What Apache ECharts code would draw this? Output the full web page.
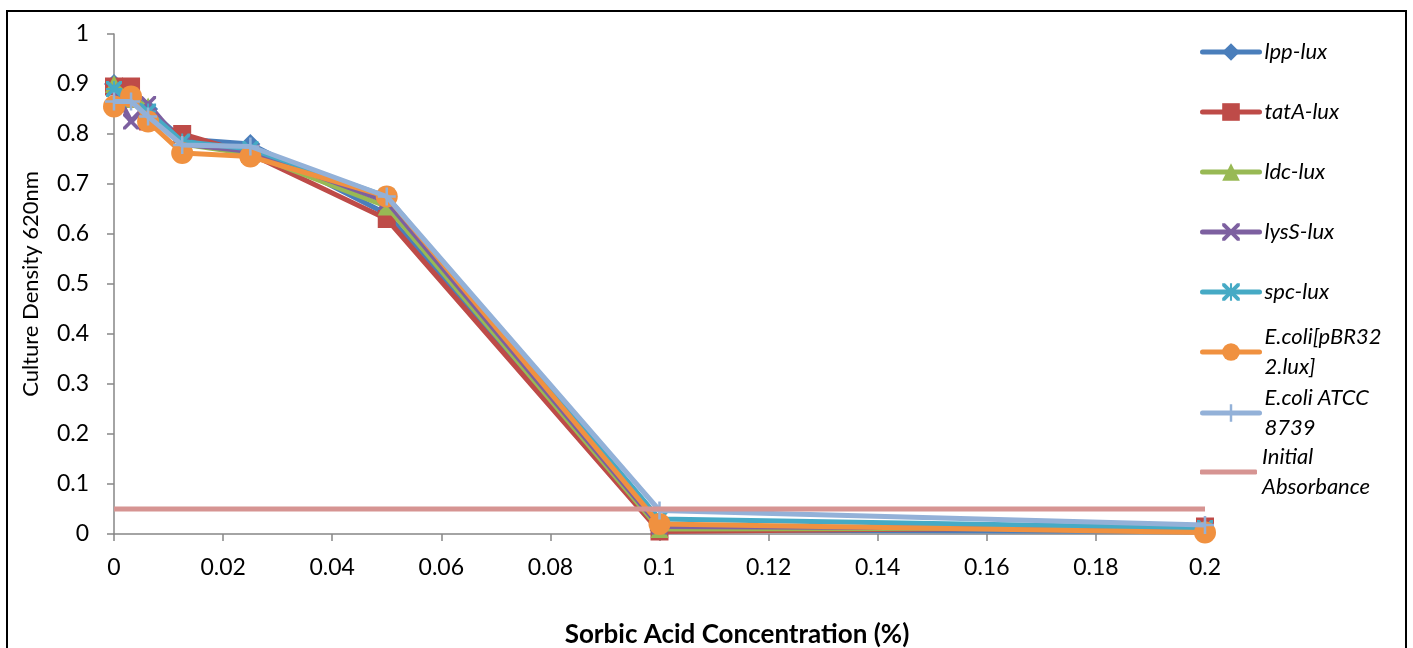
<!DOCTYPE html>
<html>
<head>
<meta charset="utf-8">
<script src="https://cdn.jsdelivr.net/npm/echarts@6/dist/echarts.min.js"></script>
<style>
html,body{margin:0;padding:0;background:#fff;}
#c{width:1413px;height:648px;}
</style>
</head>
<body>
<div id="c"></div>
<script>
// ---- data ----
var concentrations = [0, 0.003125, 0.00625, 0.0125, 0.025, 0.05, 0.1, 0.2];
var seriesNames = ['lpp-lux', 'tatA-lux', 'ldc-lux', 'lysS-lux', 'spc-lux', 'E.coli[pBR322.lux]', 'E.coli ATCC 8739', 'Initial Absorbance'];
var lppLux   = [0.900, 0.880, 0.850, 0.790, 0.780, 0.640, 0.008, 0.005];
var tatALux  = [0.895, 0.895, 0.825, 0.800, 0.760, 0.630, 0.005, 0.015];
var ldcLux   = [0.900, 0.870, 0.855, 0.780, 0.760, 0.655, 0.010, 0.012];
var lysSLux  = [0.890, 0.825, 0.860, 0.780, 0.765, 0.665, 0.015, 0.010];
var spcLux   = [0.890, 0.870, 0.845, 0.785, 0.770, 0.675, 0.030, 0.012];
var pBR322   = [0.855, 0.875, 0.825, 0.762, 0.755, 0.675, 0.020, 0.003];
var atcc8739 = [0.865, 0.865, 0.835, 0.778, 0.775, 0.675, 0.047, 0.018];
var initialAbs = [0.05, 0.05, 0.05, 0.05, 0.05, 0.05, 0.05, 0.05];
var xTicks = {min: 0, max: 0.2, interval: 0.02};
var yTicks = {min: 0, max: 1, interval: 0.1};

var FONT = 'Lato';
var SYM_X = 'path://M0,0 L1.6,0 L5,3.4 L8.4,0 L10,0 L10,1.6 L6.6,5 L10,8.4 L10,10 L8.4,10 L5,6.6 L1.6,10 L0,10 L0,8.4 L3.4,5 L0,1.6 Z';
var SYM_PLUS = 'path://M4.3,0 L5.7,0 L5.7,4.3 L10,4.3 L10,5.7 L5.7,5.7 L5.7,10 L4.3,10 L4.3,5.7 L0,5.7 L0,4.3 L4.3,4.3 Z';
var SYM_AST = 'path://M0,0 L1.6,0 L5,3.4 L8.4,0 L10,0 L10,1.6 L6.6,5 L10,8.4 L10,10 L8.4,10 L5,6.6 L1.6,10 L0,10 L0,8.4 L3.4,5 L0,1.6 Z M4.4,0 L5.6,0 L5.6,10 L4.4,10 Z M0,4.4 L10,4.4 L10,5.6 L0,5.6 Z';

function pairs(vals){ return concentrations.map(function(x,i){ return [x, vals[i]]; }); }

var defs = [
  {data: lppLux,   color: '#4A7EBB', symbol: 'diamond',  size: 20},
  {data: tatALux,  color: '#BE4B48', symbol: 'rect',     size: 18},
  {data: ldcLux,   color: '#98B954', symbol: 'triangle', size: 18},
  {data: lysSLux,  color: '#7D60A0', symbol: SYM_X,      size: 16},
  {data: spcLux,   color: '#46AAC5', symbol: SYM_AST,    size: 16},
  {data: pBR322,   color: '#F09140', symbol: 'circle',   size: 22},
  {data: atcc8739, color: '#93B1D8', symbol: SYM_PLUS,   size: 18},
  {data: initialAbs, color: '#D69492', symbol: 'none',   size: 0}
];

var series = defs.map(function(d, i){
  return {
    name: seriesNames[i],
    type: 'line',
    data: pairs(d.data),
    symbol: d.symbol,
    symbolSize: d.size,
    showSymbol: d.symbol !== 'none',
    color: d.color,
    lineStyle: {width: 5, color: d.color},
    itemStyle: {color: d.color},
    z: 2 + i,
    animation: false
  };
});

var legendText = {
  'E.coli[pBR322.lux]': 'E.coli[pBR32\n2.lux]',
  'E.coli ATCC 8739': 'E.coli ATCC\n8739',
  'Initial Absorbance': 'Initial\nAbsorbance'
};
function legendFmt(n){ return legendText[n] || n; }

var legendBase = {
  orient: 'vertical', left: 1200, padding: 0,
  itemWidth: 57, itemHeight: 22, itemGap: 30,
  selectedMode: false,
  lineStyle: {width: 5, cap: 'round'},
  textStyle: {fontFamily: FONT, fontStyle: 'italic', fontSize: 22, color: '#000', lineHeight: 30}
};
function mkLegend(names, top, wrapped){
  var l = JSON.parse(JSON.stringify(legendBase));
  l.formatter = legendFmt;
  l.data = names;
  l.top = top;
  if (wrapped) { l.textStyle.padding = [30, 0, 0, 0]; }
  return l;
}

var lastLegend = mkLegend([{name: seriesNames[7], icon: 'roundRect'}], 427, true);
lastLegend.itemHeight = 5;
lastLegend.itemStyle = {color: '#D69492', opacity: 1, borderWidth: 0};

var option = {
  backgroundColor: '#fff',
  animation: false,
  grid: {left: 114, right: 208, top: 34, bottom: 114, containLabel: false},
  xAxis: {
    type: 'value', min: xTicks.min, max: xTicks.max, interval: xTicks.interval,
    axisLine: {show: true, onZero: false, lineStyle: {color: '#868686', width: 1.5}},
    axisTick: {show: true, length: 7, lineStyle: {color: '#868686', width: 1.5}},
    splitLine: {show: false},
    axisLabel: {fontFamily: FONT, fontSize: 23, color: '#000', margin: 22,
      formatter: function(v){ return String(+v.toFixed(2)); }}
  },
  yAxis: {
    type: 'value', min: yTicks.min, max: yTicks.max, interval: yTicks.interval,
    name: 'Culture Density 620nm', nameLocation: 'middle', nameGap: 72, nameRotate: 90,
    nameTextStyle: {fontFamily: FONT, fontSize: 22, color: '#000'},
    axisLine: {show: true, lineStyle: {color: '#868686', width: 1.5}},
    axisTick: {show: true, length: 7, lineStyle: {color: '#868686', width: 1.5}},
    splitLine: {show: false},
    axisLabel: {fontFamily: FONT, fontSize: 23, color: '#000', margin: 25,
      formatter: function(v){ return String(+v.toFixed(1)); }}
  },
  legend: [
    mkLegend(seriesNames.slice(0,5), 37, false),
    mkLegend([seriesNames[5]], 307, true),
    mkLegend([seriesNames[6]], 368, true),
    lastLegend
  ],
  graphic: [
    {type: 'rect', shape: {x: 7, y: 11, width: 1399, height: 660}, style: {fill: 'none', stroke: '#000', lineWidth: 2}, silent: true, z: 100},
    {type: 'text', x: 737, y: 635, style: {text: 'Sorbic Acid Concentration (%)', fontFamily: FONT, fontWeight: 'bold', fontSize: 26, fill: '#000', align: 'center', verticalAlign: 'middle'}, silent: true}
  ],
  series: series
};

var chart = echarts.init(document.getElementById('c'), null, {renderer: 'canvas'});
chart.setOption(option);
</script>
</body>
</html>
